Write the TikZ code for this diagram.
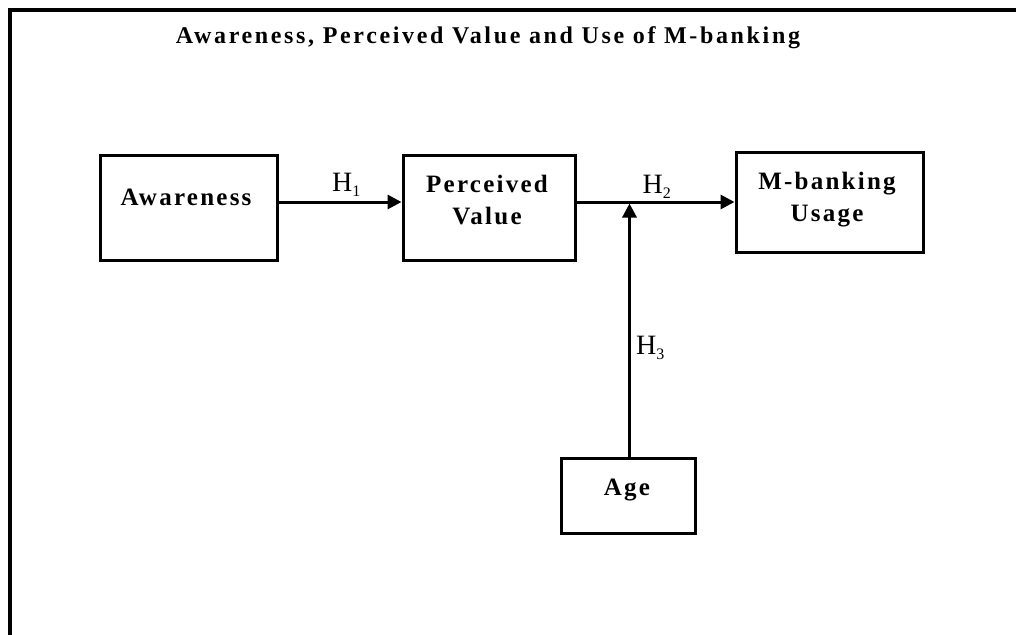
\documentclass[tikz,border=0pt]{standalone}
\usepackage{fontspec}
\setmainfont{Liberation Serif}
\newfontfamily\titlefont{Liberation Serif}[LetterSpace=11]
\newfontfamily\boxfont{Liberation Serif}[LetterSpace=9]
\usetikzlibrary{arrows.meta,calc}

\begin{document}
\begin{tikzpicture}[x=1pt,y=-1pt,
  box/.style={draw, line width=3pt, inner sep=0pt},
  boxtext/.style={font=\boxfont\bfseries\fontsize{25}{32}\selectfont, align=center, anchor=base, inner sep=0pt},
  titletext/.style={font=\titlefont\bfseries\fontsize{24}{28}\selectfont, anchor=base, inner sep=0pt},
  hlabel/.style={font=\fontsize{28}{30}\selectfont, anchor=base west, inner sep=0pt},
  arr/.style={line width=3pt, -{Triangle[length=14pt,width=14pt]}},
  frame/.style={line width=3.4pt}]
\useasboundingbox (0,0) rectangle (1016,634);
\clip (0,0) rectangle (1016,634);

% outer frame, open to the right and below
\draw[frame] (10,650) -- (10,10) -- (1030,10);

% title
\node[titletext] (title) at (488,43.3) {Awareness, Perceived Value and Use of M-banking};

% boxes
\node[box, minimum width=177pt, minimum height=104.6pt] (aw)  at (188.5,208) {};
\node[box, minimum width=172pt, minimum height=105pt]   (pv)  at (489,207.5) {};
\node[box, minimum width=187pt, minimum height=100pt]   (mb)  at (829.5,202.7) {};
\node[box, minimum width=133.6pt, minimum height=75pt]  (age) at (628.5,495.8) {};

% box texts (base anchor sits on the last line)
\node[boxtext] (awt)  at (186,205) {Awareness};
\node[boxtext] (pvt)  at (487,224) {Perceived\\Value};
\node[boxtext] (mbt)  at (827,221.7) {M-banking\\Usage};
\node[boxtext] (aget) at (627,495) {Age};

% connectors
\draw[arr] ([yshift=6pt]aw.east) -- ([yshift=5.5pt]pv.west);
\draw[arr] ([yshift=5.5pt]pv.east) -- ([yshift=0.7pt]mb.west);
\coordinate (hline) at (0,203.5);
\coordinate (join) at ([xshift=1pt]age.north |- hline);
\draw[arr] ([xshift=1pt]age.north) -- (join);

% hypothesis labels
\newcommand{\hyp}[1]{H\raisebox{-5pt}{\fontsize{16}{16}\selectfont #1}}
\node[hlabel] (h1) at (332,191.5) {\hyp{1}};
\node[hlabel] (h2) at (642.5,193) {\hyp{2}};
\node[hlabel] (h3) at (636,354) {\hyp{3}};
\end{tikzpicture}
\end{document}
